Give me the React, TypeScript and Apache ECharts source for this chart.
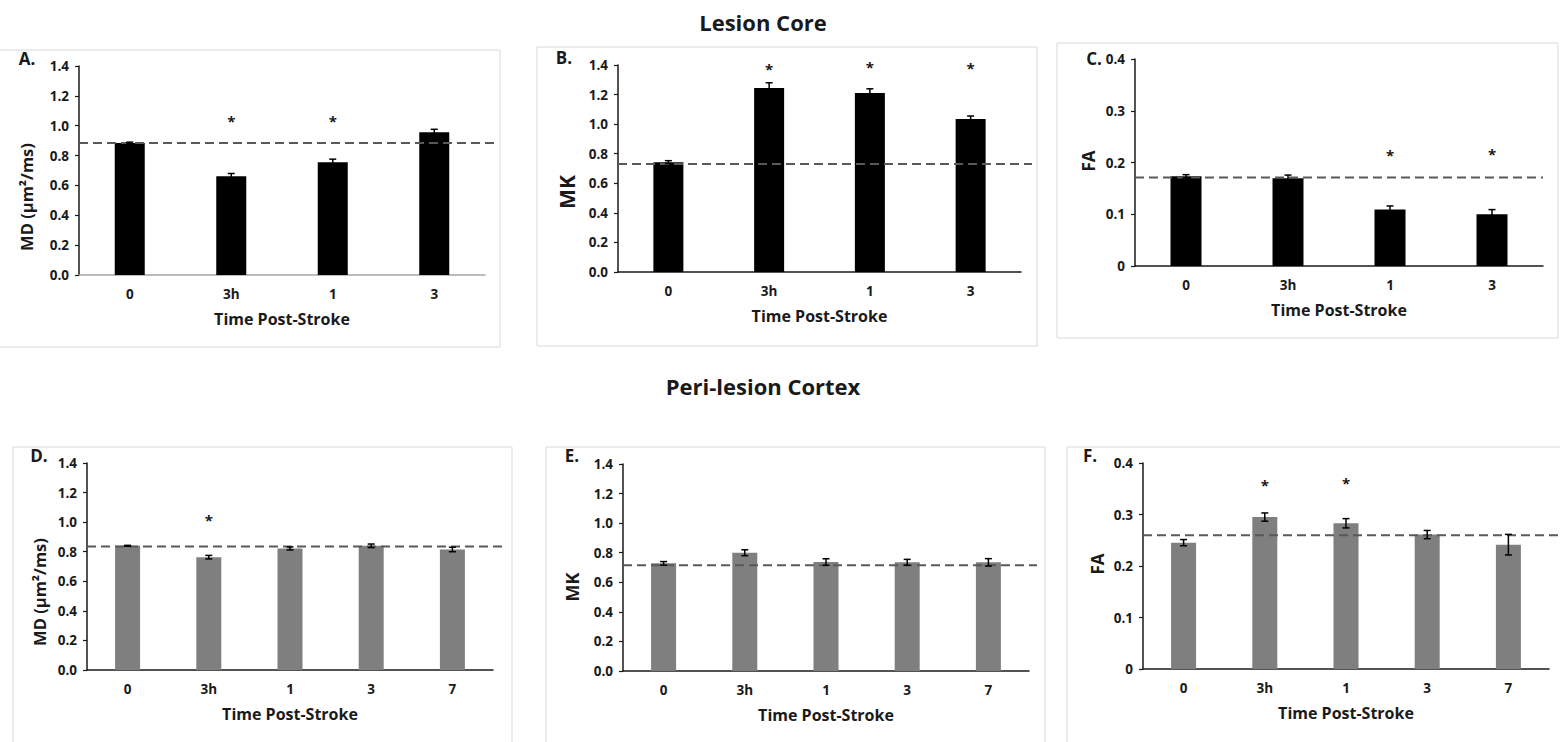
import React, { useEffect, useRef } from "react";
import * as echarts from "echarts";

// ---------- data ----------
const catsCore = ["0", "3h", "1", "3"];
const catsPeri = ["0", "3h", "1", "3", "7"];

const mdCore = [0.885, 0.662, 0.756, 0.956];
const mdCoreErr = [0.005, 0.018, 0.02, 0.02];
const mdCoreBase = 0.885;
const mdCoreSig = [null, 1.05, 1.05, null];

const mkCore = [0.743, 1.245, 1.211, 1.035];
const mkCoreErr = [0.01, 0.035, 0.028, 0.02];
const mkCoreBase = 0.731;
const mkCoreSig = [null, 1.39, 1.405, 1.395];

const faCore = [0.1735, 0.1697, 0.109, 0.1];
const faCoreErr = [0.003, 0.006, 0.007, 0.009];
const faCoreBase = 0.171;
const faCoreSig = [null, null, 0.219, 0.221];

const mdPeri = [0.84, 0.763, 0.822, 0.84, 0.815];
const mdPeriErr = [0.003, 0.012, 0.01, 0.012, 0.015];
const mdPeriBase = 0.835;
const mdPeriSig = [null, 1.03, null, null, null];

const mkPeri = [0.728, 0.8, 0.737, 0.735, 0.735];
const mkPeriErr = [0.012, 0.02, 0.022, 0.02, 0.025];
const mkPeriBase = 0.715;
const mkPeriSig = [null, null, null, null, null];

const faPeri = [0.2453, 0.295, 0.283, 0.261, 0.2414];
const faPeriErr = [0.006, 0.008, 0.009, 0.008, 0.02];
const faPeriBase = 0.2595;
const faPeriSig = [null, 0.362, 0.366, null, null];

const mdTicks = { max: 1.4, interval: 0.2 };
const faTicks = { max: 0.4, interval: 0.1 };

const FONT = '"Open Sans", Lato, sans-serif';
const INK = "#1a1a1a";

// ---------- layout ----------
const panels = [
  { letter: "A.", cats: catsCore, vals: mdCore, errs: mdCoreErr, base: mdCoreBase, sig: mdCoreSig, ticks: mdTicks, color: "#000000", barW: 30,
    grid: { left: 79, top: 66, width: 406, height: 209 }, lineEnd: 498, xAxisColor: "#a6a6a6",
    frame: { x: -1, y: 50, w: 501, h: 297 }, letterPos: [27, 58], yTitle: "MD (µm²/ms)", yTitlePos: [26, 197], yTitleSize: 16.5 },
  { letter: "B.", cats: catsCore, vals: mkCore, errs: mkCoreErr, base: mkCoreBase, sig: mkCoreSig, ticks: mdTicks, color: "#000000", barW: 30,
    grid: { left: 618, top: 65, width: 403, height: 207 }, lineEnd: 1032, xAxisColor: INK,
    frame: { x: 537, y: 47, w: 500, h: 299 }, letterPos: [564, 57], yTitle: "MK", yTitlePos: [567, 192], yTitleSize: 21 },
  { letter: "C.", cats: catsCore, vals: faCore, errs: faCoreErr, base: faCoreBase, sig: faCoreSig, ticks: faTicks, color: "#000000", barW: 31,
    grid: { left: 1135, top: 59, width: 408, height: 207 }, lineEnd: 1543, xAxisColor: INK,
    frame: { x: 1057, y: 43, w: 501, h: 295 }, letterPos: [1094, 58], yTitle: "FA", yTitlePos: [1088, 161], yTitleSize: 17 },
  { letter: "D.", cats: catsPeri, vals: mdPeri, errs: mdPeriErr, base: mdPeriBase, sig: mdPeriSig, ticks: mdTicks, color: "#7f7f7f", barW: 25,
    grid: { left: 87, top: 463, width: 406, height: 207 }, lineEnd: 503, xAxisColor: INK,
    frame: { x: 13, y: 447, w: 499, h: 310 }, letterPos: [39, 455], yTitle: "MD (µm²/ms)", yTitlePos: [39, 592], yTitleSize: 16.5 },
  { letter: "E.", cats: catsPeri, vals: mkPeri, errs: mkPeriErr, base: mkPeriBase, sig: mkPeriSig, ticks: mdTicks, color: "#7f7f7f", barW: 25,
    grid: { left: 623, top: 464, width: 406, height: 207 }, lineEnd: 1037, xAxisColor: INK,
    frame: { x: 546, y: 447, w: 499, h: 310 }, letterPos: [572, 455], yTitle: "MK", yTitlePos: [572, 587], yTitleSize: 18 },
  { letter: "F.", cats: catsPeri, vals: faPeri, errs: faPeriErr, base: faPeriBase, sig: faPeriSig, ticks: faTicks, color: "#7f7f7f", barW: 25,
    grid: { left: 1143, top: 463, width: 406, height: 206 }, lineEnd: 1560, xAxisColor: INK,
    frame: { x: 1067, y: 447, w: 510, h: 310 }, letterPos: [1090, 455], yTitle: "FA", yTitlePos: [1097, 564], yTitleSize: 17 },
];

function fmtTick(max: number) {
  return (v: number) => (v === 0 && max < 1 ? "0" : v.toFixed(1));
}

function buildOption() {
  const grid: any[] = [];
  const xAxis: any[] = [];
  const yAxis: any[] = [];
  const series: any[] = [];
  const graphic: any[] = [];

  panels.forEach((p, i) => {
    const gBar = i * 2;
    const gLine = i * 2 + 1;
    grid.push({ ...p.grid, containLabel: false });
    grid.push({ left: p.grid.left, top: p.grid.top, width: p.lineEnd - p.grid.left, height: p.grid.height, containLabel: false });

    xAxis.push({
      type: "category", gridIndex: gBar, data: p.cats,
      axisLine: { show: true, lineStyle: { color: p.xAxisColor, width: 1.5 } },
      axisTick: { show: false },
      axisLabel: { color: INK, fontFamily: FONT, fontWeight: "bold", fontSize: 13.5, margin: 12 },
      name: "Time Post-Stroke", nameLocation: "middle", nameGap: 36,
      nameTextStyle: { color: INK, fontFamily: FONT, fontWeight: "bold", fontSize: 16 },
    });
    xAxis.push({ type: "value", gridIndex: gLine, min: 0, max: 1, show: false });

    yAxis.push({
      type: "value", gridIndex: gBar, min: 0, max: p.ticks.max, interval: p.ticks.interval,
      axisLine: { show: true, lineStyle: { color: INK, width: 1.5 } },
      axisTick: { show: true, length: 4, lineStyle: { color: INK, width: 1.2 } },
      splitLine: { show: false },
      axisLabel: { color: INK, fontFamily: FONT, fontWeight: "bold", fontSize: 13.5, margin: 10, formatter: fmtTick(p.ticks.max) },
    });
    yAxis.push({ type: "value", gridIndex: gLine, min: 0, max: p.ticks.max, show: false });

    series.push({
      type: "bar", xAxisIndex: gBar, yAxisIndex: gBar, data: p.vals, barWidth: p.barW,
      itemStyle: { color: p.color }, z: 2, silent: true,
    });
    series.push({
      type: "custom", xAxisIndex: gBar, yAxisIndex: gBar, z: 4, silent: true,
      itemStyle: { color: "#000" },
      data: p.vals.map((v, k) => [k, v, p.errs[k]]),
      renderItem: (params: any, api: any) => {
        const x = api.value(0);
        const v = api.value(1);
        const e = api.value(2);
        const top = api.coord([x, v + e]);
        const bot = api.coord([x, v - e]);
        const hw = 3.5;
        const st = { stroke: "#000", lineWidth: 1.5 };
        return {
          type: "group",
          children: [
            { type: "line", shape: { x1: top[0], y1: top[1], x2: bot[0], y2: bot[1] }, style: st },
            { type: "line", shape: { x1: top[0] - hw, y1: top[1], x2: top[0] + hw, y2: top[1] }, style: st },
            { type: "line", shape: { x1: bot[0] - hw, y1: bot[1], x2: bot[0] + hw, y2: bot[1] }, style: st },
          ],
        };
      },
    });
    series.push({
      type: "custom", xAxisIndex: gBar, yAxisIndex: gBar, z: 5, silent: true,
      itemStyle: { color: INK },
      data: p.sig.map((v, k) => (v == null ? null : [k, v])).filter((d) => d != null),
      renderItem: (params: any, api: any) => {
        const c = api.coord([api.value(0), api.value(1)]);
        return {
          type: "text", x: c[0], y: c[1] + 2.5,
          style: { text: "*", fill: INK, font: `bold 15px ${FONT}`, textAlign: "center", textVerticalAlign: "middle" },
        };
      },
    });
    series.push({
      type: "line", xAxisIndex: gLine, yAxisIndex: gLine, data: [[0, p.base], [1, p.base]],
      symbol: "none", silent: true, z: 3,
      lineStyle: { color: "#595959", width: 2, type: [9, 5] },
    });

    graphic.push({
      type: "rect", shape: { x: p.frame.x, y: p.frame.y, width: p.frame.w, height: p.frame.h },
      style: { fill: "none", stroke: "#d9d9d9", lineWidth: 1 }, z: -1, silent: true,
    });
    graphic.push({
      type: "text", x: p.letterPos[0], y: p.letterPos[1],
      style: { text: p.letter, fill: INK, font: `bold 17px ${FONT}`, textAlign: "center", textVerticalAlign: "middle" },
    });
    graphic.push({
      type: "text", x: p.yTitlePos[0], y: p.yTitlePos[1], rotation: Math.PI / 2,
      style: { text: p.yTitle, fill: INK, font: `bold ${p.yTitleSize}px ${FONT}`, textAlign: "center", textVerticalAlign: "middle" },
    });
  });

  graphic.push({
    type: "text", x: 763, y: 22,
    style: { text: "Lesion Core", fill: INK, font: `bold 22px ${FONT}`, textAlign: "center", textVerticalAlign: "middle" },
  });
  graphic.push({
    type: "text", x: 763, y: 386,
    style: { text: "Peri-lesion Cortex", fill: INK, font: `bold 22px ${FONT}`, textAlign: "center", textVerticalAlign: "middle" },
  });

  return { animation: false, backgroundColor: "#ffffff", grid, xAxis, yAxis, series, graphic };
}

export default function App() {
  const ref = useRef<HTMLDivElement>(null);
  useEffect(() => {
    if (!ref.current) return;
    const chart = echarts.init(ref.current, undefined, { renderer: "svg" });
    chart.setOption(buildOption() as any);
    return () => chart.dispose();
  }, []);
  return (
    <div
      ref={ref}
      style={{ position: "fixed", left: 0, top: 0, width: 1560, height: 742, background: "#fff" }}
    />
  );
}
